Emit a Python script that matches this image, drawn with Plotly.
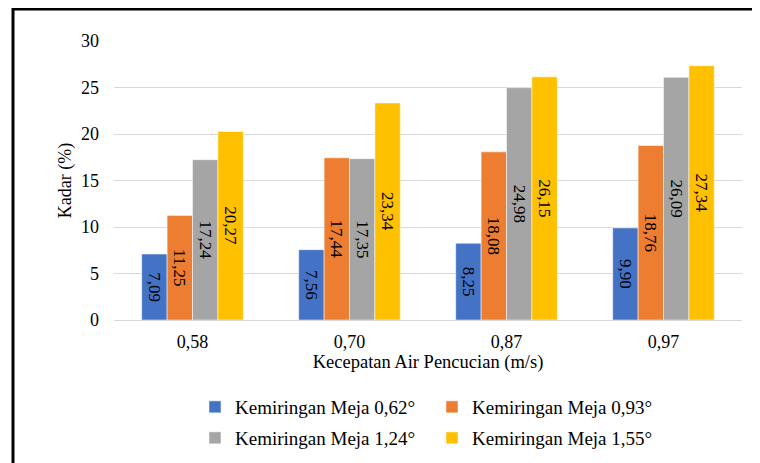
import plotly.graph_objects as go

categories = ["0,58", "0,70", "0,87", "0,97"]
series_names = ["Kemiringan Meja 0,62°", "Kemiringan Meja 0,93°",
                "Kemiringan Meja 1,24°", "Kemiringan Meja 1,55°"]
s062 = [7.09, 7.56, 8.25, 9.90]
s093 = [11.25, 17.44, 18.08, 18.76]
s124 = [17.24, 17.35, 24.98, 26.09]
s155 = [20.27, 23.34, 26.15, 27.34]
colors = ["#4472C4", "#ED7D31", "#A5A5A5", "#FFC000"]
legend_ids = ["legend", "legend", "legend2", "legend2"]

FONT = "Liberation Serif, Times New Roman, serif"
fig = go.Figure()
for name, vals, col, lg in zip(series_names, [s062, s093, s124, s155], colors, legend_ids):
    fig.add_trace(go.Bar(
        x=categories, y=vals, name=name, legend=lg,
        marker=dict(color=col, line=dict(color="white", width=0.5)),
        texttemplate="%{y:.2f}", textposition="inside", insidetextanchor="middle",
        textangle=90, constraintext="none",
        textfont=dict(family=FONT, size=17, color="black"),
    ))

# page offset (body margin) compensation
OFF = 8
W, H = 760, 463
L, R, T, B = 114 - OFF, 760 - 742 + OFF, 41 - OFF, 463 - 320 + OFF
pw, ph = W - L - R, H - T - B

def px(x):
    return (x - OFF - L) / pw

def py(y):
    return (H - B - (y - OFF)) / ph

legend_common = dict(orientation="h", xanchor="left", yanchor="middle",
                     font=dict(family=FONT, size=19, color="black"),
                     entrywidth=192, entrywidthmode="pixels",
                     bgcolor="rgba(0,0,0,0)", traceorder="normal")

fig.update_layout(
    width=W, height=H,
    margin=dict(l=L, r=R, t=T, b=B, autoexpand=False),
    paper_bgcolor="white", plot_bgcolor="white",
    separators=",.",
    barmode="group", bargap=0.353, bargroupgap=0,
    font=dict(family=FONT, size=18, color="black"),
    legend=dict(x=px(195), y=py(407), **legend_common),
    legend2=dict(x=px(195), y=py(438), **legend_common),
    xaxis=dict(
        showline=True, linecolor="#d9d9d9", linewidth=1, showgrid=False,
        ticks="", tickfont=dict(family=FONT, size=18, color="black"),
        ticklabelstandoff=5,
        title=dict(text="Kecepatan Air Pencucian (m/s)", standoff=4,
                   font=dict(family=FONT, size=18.5, color="black")),
        automargin=False,
    ),
    yaxis=dict(
        range=[0, 30], dtick=5, showgrid=True, gridcolor="#d9d9d9", gridwidth=1,
        zeroline=False, showline=False, ticks="",
        tickfont=dict(family=FONT, size=18, color="black"),
        ticklabelstandoff=14,
        title=dict(text="Kadar (%)", standoff=4,
                   font=dict(family=FONT, size=18, color="black")),
        automargin=False,
    ),
    shapes=[dict(type="rect", xref="paper", yref="paper",
                 x0=px(13), x1=px(820), y0=py(9), y1=py(520),
                 line=dict(color="black", width=3), fillcolor="rgba(0,0,0,0)",
                 layer="above")],
)

fig.write_html("out.html")
